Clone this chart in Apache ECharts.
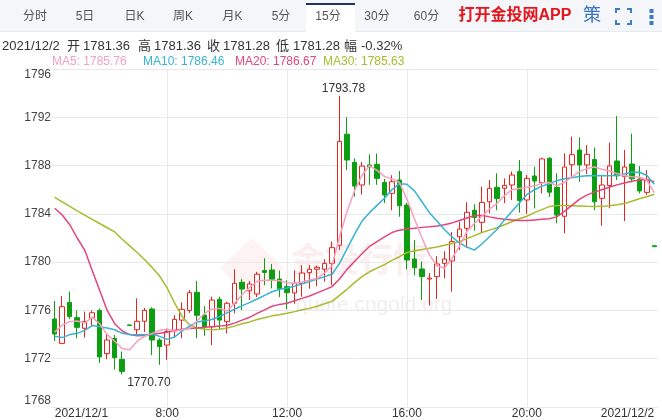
<!DOCTYPE html>
<html><head><meta charset="utf-8">
<script src="https://cdn.jsdelivr.net/npm/echarts@6/dist/echarts.min.js"></script>
<style>html,body{margin:0;padding:0;background:#fff}#c{width:662px;height:420px}</style>
</head><body><div id="c"></div>
<script>
const FONT = "'Liberation Sans','Noto Sans CJK SC',sans-serif";

const categories = ['04:15','04:30','04:45','05:00','05:15','05:30','05:45','06:00','06:15','06:30','06:45','07:00','07:15','07:30','07:45','08:00','08:15','08:30','08:45','09:00','09:15','09:30','09:45','10:00','10:15','10:30','10:45','11:00','11:15','11:30','11:45','12:00','12:15','12:30','12:45','13:00','13:15','13:30','13:45','14:00','14:15','14:30','14:45','15:00','15:15','15:30','15:45','16:00','16:15','16:30','16:45','17:00','17:15','17:30','17:45','18:00','18:15','18:30','18:45','19:00','19:15','19:30','19:45','20:00','20:15','20:30','20:45','21:00','21:15','21:30','21:45','22:00','22:15','22:30','22:45','23:00','23:15','23:30','23:45','00:00','00:15'];

const opens  = [1775.29,1773.27,1776.67,1775.40,1774.52,1775.35,1776.00,1772.42,1773.69,1771.95,1774.80,1774.40,1775.10,1776.12,1773.55,1773.13,1774.30,1775.20,1776.00,1777.50,1775.62,1774.65,1776.92,1775.07,1776.59,1778.33,1777.63,1777.36,1779.30,1779.35,1778.60,1777.97,1777.45,1778.22,1779.13,1779.41,1779.41,1779.90,1781.40,1790.60,1788.27,1786.39,1788.05,1788.10,1786.60,1785.70,1786.80,1784.73,1780.26,1779.43,1778.60,1778.80,1779.90,1780.10,1782.10,1782.80,1784.30,1783.30,1785.00,1786.20,1786.12,1786.39,1787.50,1785.15,1787.14,1786.60,1788.60,1786.20,1783.80,1788.07,1789.29,1788.05,1788.50,1785.29,1786.35,1788.38,1787.08,1788.13,1786.88,1785.78,1781.36];
const closes = [1774.04,1776.31,1775.49,1774.60,1775.07,1775.81,1772.15,1773.55,1772.09,1770.95,1774.75,1775.10,1776.00,1773.55,1773.00,1774.25,1775.26,1776.09,1777.47,1775.60,1774.62,1776.86,1775.20,1776.59,1778.25,1777.77,1778.19,1779.00,1779.15,1778.58,1777.80,1777.47,1778.22,1779.10,1779.41,1779.57,1779.90,1781.20,1790.00,1788.46,1786.30,1787.96,1787.90,1786.94,1785.56,1786.66,1784.67,1780.18,1779.54,1778.80,1778.68,1779.85,1780.26,1781.70,1782.74,1784.13,1783.70,1784.95,1786.11,1785.26,1786.36,1787.22,1785.10,1786.94,1786.72,1788.55,1785.80,1783.90,1787.88,1788.90,1788.05,1788.93,1785.00,1786.39,1787.97,1787.15,1787.88,1786.90,1785.90,1786.78,1781.28];
const lows   = [1773.46,1773.20,1775.30,1773.70,1773.75,1774.65,1771.65,1771.95,1771.10,1770.70,1774.75,1774.05,1774.20,1772.30,1771.50,1771.90,1773.75,1773.70,1775.80,1773.70,1773.90,1773.13,1774.40,1774.10,1775.76,1776.03,1776.86,1777.10,1778.10,1777.83,1777.10,1776.10,1776.55,1777.14,1777.80,1778.00,1778.38,1778.10,1781.00,1787.63,1785.42,1785.60,1786.40,1786.40,1784.90,1784.30,1783.76,1779.40,1778.90,1776.86,1776.40,1776.95,1778.66,1777.55,1781.00,1781.20,1782.60,1782.50,1784.04,1784.30,1784.90,1785.15,1784.10,1784.00,1784.45,1785.70,1785.40,1783.22,1782.39,1787.00,1786.65,1787.30,1784.30,1783.02,1784.46,1786.80,1783.40,1786.60,1785.70,1785.55,1781.28];
const highs  = [1776.78,1777.20,1777.56,1776.00,1775.90,1776.00,1776.15,1774.03,1773.97,1772.60,1774.80,1777.00,1776.20,1776.25,1773.70,1774.50,1775.62,1776.67,1777.69,1778.45,1776.36,1777.14,1777.14,1776.72,1779.41,1778.60,1778.43,1779.20,1780.32,1779.85,1779.30,1778.50,1779.32,1779.75,1779.77,1779.71,1780.24,1781.70,1793.78,1792.00,1788.60,1788.30,1788.93,1789.00,1786.90,1787.20,1787.55,1784.90,1781.83,1780.04,1779.10,1780.50,1780.90,1782.50,1783.35,1784.96,1784.80,1786.25,1786.80,1787.36,1786.94,1787.50,1788.46,1787.22,1787.91,1788.65,1788.70,1787.36,1789.02,1790.40,1790.34,1789.70,1789.50,1787.22,1789.90,1792.10,1789.30,1790.65,1787.96,1787.63,1781.36];

const ma5  = [1774.2,1774.8,1775.07,1775.12,1774.95,1775.45,1774.9,1774.0,1773.45,1772.85,1772.75,1773.45,1773.85,1774.1,1774.35,1774.45,1774.3,1774.4,1774.5,1775.15,1775.75,1776.1,1776.17,1775.95,1776.6,1777.3,1777.9,1778.4,1778.5,1778.5,1778.45,1778.3,1778.25,1778.35,1778.52,1778.65,1779.1,1779.7,1782.1,1784.2,1785.9,1787.2,1788.0,1787.6,1787.1,1786.9,1786.6,1785.2,1783.6,1782.0,1780.6,1779.7,1779.5,1780.3,1781.3,1782.55,1783.2,1783.8,1784.4,1784.85,1785.5,1786.0,1786.1,1786.2,1786.3,1786.55,1786.6,1786.35,1786.6,1787.05,1787.5,1787.75,1787.88,1787.7,1787.55,1787.35,1787.15,1787.08,1787.05,1786.8,1785.76];
const ma10 = [1773.85,1773.75,1774.0,1774.1,1774.35,1774.75,1774.65,1774.55,1774.4,1774.1,1774.0,1773.98,1773.98,1774.05,1773.85,1773.6,1773.8,1774.3,1774.7,1775.05,1775.15,1775.25,1775.5,1775.8,1776.1,1776.4,1776.65,1776.95,1777.25,1777.55,1777.75,1777.85,1778.0,1778.2,1778.4,1778.6,1778.8,1779.0,1779.9,1781.1,1782.3,1783.4,1784.1,1784.7,1785.3,1786.0,1786.5,1786.45,1785.9,1785.0,1784.1,1783.4,1782.7,1782.1,1781.6,1781.25,1781.0,1781.5,1782.1,1782.7,1783.5,1784.2,1784.9,1785.6,1786.0,1786.3,1786.5,1786.75,1786.9,1787.0,1787.1,1787.15,1787.15,1787.15,1787.15,1787.2,1787.3,1787.45,1787.45,1787.2,1786.46];
const ma20 = [1784.46,1783.9,1783.1,1782.0,1781.0,1779.3,1777.65,1776.0,1774.9,1774.3,1774.0,1773.9,1773.92,1774.0,1774.1,1774.2,1774.35,1774.45,1774.5,1774.55,1774.6,1774.65,1774.7,1774.78,1774.95,1775.2,1775.43,1775.75,1776.05,1776.35,1776.5,1776.6,1776.8,1777.0,1777.2,1777.45,1777.7,1777.97,1778.6,1779.4,1780.05,1780.7,1781.3,1781.7,1782.1,1782.45,1782.65,1782.75,1782.8,1782.88,1782.93,1783.0,1783.1,1783.25,1783.45,1783.65,1783.85,1783.88,1783.75,1783.63,1783.55,1783.5,1783.45,1783.45,1783.5,1783.55,1783.6,1783.75,1784.2,1784.7,1785.2,1785.55,1785.8,1786.0,1786.2,1786.4,1786.55,1786.7,1786.8,1786.85,1786.67];
const ma30 = [1785.37,1785.0,1784.62,1784.25,1783.9,1783.55,1783.2,1782.85,1782.5,1781.9,1781.35,1780.8,1780.2,1779.55,1778.85,1777.86,1776.6,1775.5,1774.8,1774.55,1774.45,1774.4,1774.45,1774.55,1774.7,1774.9,1775.05,1775.25,1775.4,1775.55,1775.65,1775.76,1775.9,1776.05,1776.17,1776.35,1776.55,1776.75,1777.25,1777.75,1778.3,1778.8,1779.2,1779.5,1779.8,1780.15,1780.45,1780.8,1780.95,1781.05,1781.15,1781.25,1781.4,1781.55,1781.7,1781.95,1782.2,1782.45,1782.65,1782.85,1783.1,1783.35,1783.6,1783.8,1784.1,1784.35,1784.6,1784.7,1784.7,1784.68,1784.65,1784.62,1784.6,1784.62,1784.68,1784.75,1784.85,1785.05,1785.25,1785.42,1785.63];

const xTickLabels = {0:'2021/12/1', 15:'8:00', 31:'12:00', 47:'16:00', 63:'20:00', 80:'2021/12/2'};
const xSplitIdx = [15, 31, 47, 63];
const yMin = 1768, yMax = 1796, yStep = 4;
const tabs = ['分时','5日','日K','周K','月K','5分','15分','30分','60分'];
const infoDate = '2021/12/2';
const infoChange = '-0.32%';

const RED = '#e0261f', GREEN = '#0e9e12';
const C5 = '#f5a0bf', C10 = '#35b3d3', C20 = '#e2457c', C30 = '#a7bb2c';

const chart = echarts.init(document.getElementById('c'), null, {renderer: 'canvas'});
const last = opens.length - 1;
const maxIdx = highs.indexOf(Math.max(...highs));
const minIdx = lows.indexOf(Math.min(...lows));

function txt(x, y, text, fill, size, extra) {
  return Object.assign({type: 'text', x: x, y: y, silent: true,
    style: Object.assign({text: text, fill: fill, font: size + 'px ' + FONT,
      textAlign: 'left', textVerticalAlign: 'middle', align: 'left', verticalAlign: 'middle'}, extra || {})}, {});
}

const graphics = [];
// tab bar
graphics.push({type: 'rect', shape: {x: 0, y: 0, width: 662, height: 31}, style: {fill: '#f4f6fa'}, silent: true});
graphics.push({type: 'rect', shape: {x: 0, y: 31, width: 662, height: 1}, style: {fill: '#e4e8ef'}, silent: true});
graphics.push({type: 'rect', shape: {x: 306, y: 4, width: 49, height: 28}, style: {fill: '#ffffff'}, silent: true});
graphics.push({type: 'rect', shape: {x: 306, y: 3, width: 49, height: 2}, style: {fill: '#1d3468'}, silent: true});
const tabX = [35, 85, 134.5, 183, 232.5, 281, 328, 377, 426.5];
tabs.forEach((t, i) => graphics.push(txt(tabX[i], 17, t, '#555', 12, {textAlign: 'center', align: 'center'})));
graphics.push(txt(515, 16, '打开金投网APP', '#e2161c', 16, {textAlign: 'center', align: 'center', font: 'bold 16px ' + FONT}));
graphics.push(txt(592, 16, '策', '#3a74c0', 18, {textAlign: 'center', align: 'center'}));
const icoC = '#3d7bc8';
[[[616,13],[616,9],[620,9]], [[627,9],[631,9],[631,13]], [[616,20],[616,24],[620,24]], [[627,24],[631,24],[631,20]]]
  .forEach(p => graphics.push({type: 'polyline', shape: {points: p}, style: {stroke: icoC, lineWidth: 2, fill: null}, silent: true}));
[9, 15, 21].forEach(y => graphics.push({type: 'rect', shape: {x: 649.5, y: y, width: 4, height: 4}, style: {fill: icoC}, silent: true}));
// info line
const infoParts = [[2, infoDate], [67, '开'], [83, opens[last].toFixed(2)], [138, '高'], [154, highs[last].toFixed(2)],
  [207, '收'], [223, closes[last].toFixed(2)], [276, '低'], [293, lows[last].toFixed(2)], [344, '幅'], [361, infoChange]];
infoParts.forEach(p => graphics.push(txt(p[0], 46, p[1], '#333', 13)));
graphics.push(txt(52, 62, 'MA5: ' + ma5[last].toFixed(2), C5, 12));
graphics.push(txt(143, 62, 'MA10: ' + ma10[last].toFixed(2), C10, 12));
graphics.push(txt(235, 62, 'MA20: ' + ma20[last].toFixed(2), C20, 12));
graphics.push(txt(323, 62, 'MA30: ' + ma30[last].toFixed(2), C30, 12));
// watermark
graphics.push({type: 'polygon', shape: {points: [[252, 238], [284, 268], [252, 300], [220, 268]]}, style: {fill: 'rgba(225,90,90,0.07)'}, silent: true, z: -10});
graphics.push(txt(291, 263, '金投行情', 'rgba(215,90,90,0.10)', 34, {font: 'bold 34px ' + FONT, z: -10}));
graphics.push(txt(296, 305, 'quote.cngold.org', 'rgba(170,140,140,0.16)', 21, {}));

const option = {
  animation: false,
  backgroundColor: '#ffffff',
  textStyle: {fontFamily: FONT},
  grid: {left: 51, top: 69, width: 607, height: 338, containLabel: false, outerBoundsMode: 'none'},
  xAxis: {
    type: 'category', data: categories, boundaryGap: true,
    axisLine: {show: false}, axisTick: {show: false},
    splitLine: {show: true, alignWithLabel: true, interval: (i) => xSplitIdx.indexOf(i) >= 0, lineStyle: {color: '#e9e9e9', width: 1}},
    axisLabel: {
      show: true, interval: (i) => xTickLabels[i] !== undefined, formatter: (v, i) => xTickLabels[i] || '',
      color: '#333', fontSize: 12, fontFamily: FONT, margin: 1, alignMinLabel: 'left', alignMaxLabel: 'right',
      hideOverlap: false, showMinLabel: true, showMaxLabel: true
    }
  },
  yAxis: {
    type: 'value', min: yMin, max: yMax, interval: yStep, position: 'left',
    axisLine: {show: false}, axisTick: {show: false},
    splitLine: {show: true, lineStyle: {color: '#e9e9e9', width: 1}},
    axisLabel: {
      color: '#444', fontSize: 12, fontFamily: FONT, margin: 0,
      formatter: v => v === yMax ? '{t|' + v + '}' : (v === yMin ? '{b|' + v + '}' : String(v)),
      rich: {
        t: {padding: [12, 0, 0, 0], color: '#444', fontSize: 12, fontFamily: FONT},
        b: {padding: [0, 0, 12, 0], color: '#444', fontSize: 12, fontFamily: FONT}
      }
    }
  },
  graphic: {elements: graphics},
  series: [
    {
      type: 'candlestick', name: 'K', barWidth: 5, clip: false,
      data: opens.map((o, i) => [o, closes[i], lows[i], highs[i]]),
      itemStyle: {color: '#ffffff', color0: GREEN, borderColor: RED, borderColor0: GREEN, borderWidth: 1},
      markPoint: {
        symbol: 'circle', symbolSize: 0, silent: true, animation: false,
        label: {show: true, color: '#333', fontSize: 12, fontFamily: FONT, formatter: p => p.data.txt},
        data: [
          {coord: [maxIdx, highs[maxIdx]], txt: highs[maxIdx].toFixed(2), label: {position: 'top', distance: 1, offset: [4, 0]}},
          {coord: [minIdx, lows[minIdx]], txt: lows[minIdx].toFixed(2), label: {position: [5, 2], align: 'left', verticalAlign: 'top'}}
        ]
      }
    },
    {type: 'line', name: 'MA30', data: ma30, symbol: 'none', showSymbol: false, lineStyle: {color: C30, width: 1.5}, silent: true},
    {type: 'line', name: 'MA20', data: ma20, symbol: 'none', showSymbol: false, lineStyle: {color: C20, width: 1.5}, silent: true},
    {type: 'line', name: 'MA10', data: ma10, symbol: 'none', showSymbol: false, lineStyle: {color: C10, width: 1.5}, silent: true},
    {type: 'line', name: 'MA5', data: ma5, symbol: 'none', showSymbol: false, lineStyle: {color: C5, width: 1.5}, silent: true}
  ]
};
chart.setOption(option);
</script>
</body></html>
